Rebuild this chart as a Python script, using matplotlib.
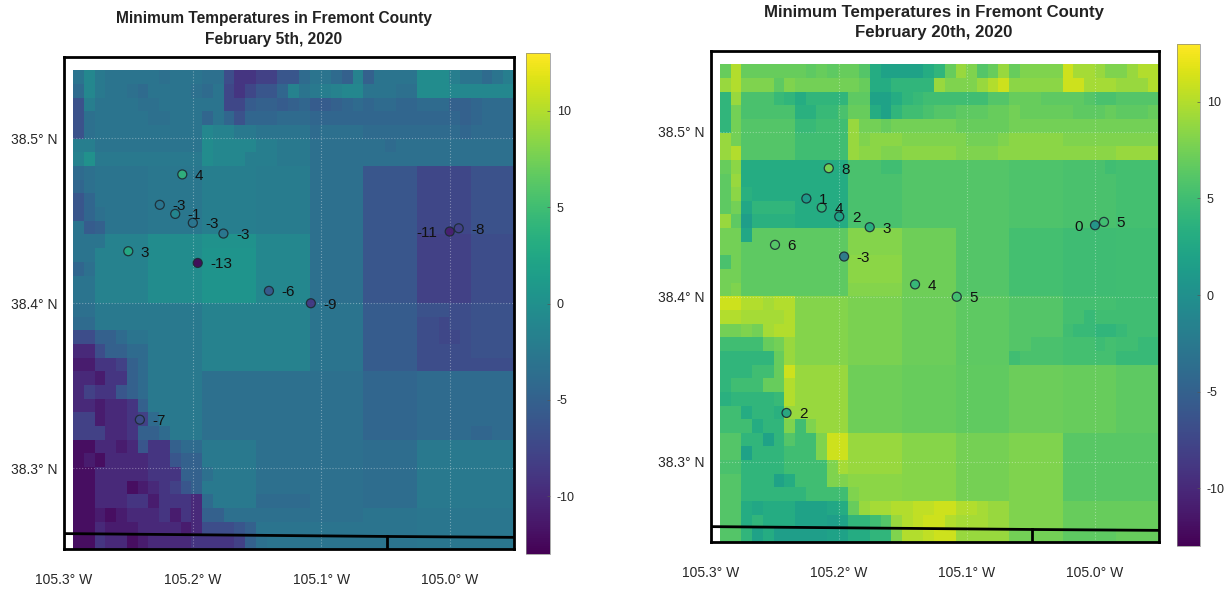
import numpy as np
import matplotlib
matplotlib.use('Agg')
import matplotlib.pyplot as plt

plt.rcParams['font.family'] = ['Liberation Sans', 'DejaVu Sans']
plt.rcParams['axes.unicode_minus'] = False

# stations, same in both maps
st_lon = [-105.208, -105.2255, -105.2135, -105.1998, -105.176, -105.250, -105.196, -105.1406, -105.108, -105.000, -104.993, -105.241]
st_lat = [38.478, 38.4596, 38.4541, 38.4487, 38.4422, 38.4315, 38.4244, 38.4075, 38.400, 38.4434, 38.4454, 38.3295]
feb5_st = [4, -3, -1, -3, -3, 3, -13, -6, -9, -11, -8, -7]
feb20_st = [8, 1, 4, 2, 3, 6, -3, 4, 5, 0, 5, 2]

county_lon = [-105.31, -105.05, -104.94]
county_lat = [38.2606, 38.2588, 38.2582]
tick_lon = [-105.049, -105.049]
tick_lat = [38.2588, 38.24]

lon_ticks = [-105.3, -105.2, -105.1, -105.0]
lon_labels = ['105.3° W', '105.2° W', '105.1° W', '105.0° W']
lat_ticks = [38.3, 38.4, 38.5]
lat_labels = ['38.3° N', '38.4° N', '38.5° N']
cb_ticks = [-10, -5, 0, 5, 10]

# minimum temperature grid, top row first, 41 columns
feb5 = [
 [-3,-1, -2.5,-3,-3,-3,-3, -3,-3.5,-3,-3,-3, -3.5,-3.5,-7,-9,-9, -8,-8,-6,-6,-4, -3,-3,-4,-5,-1.5, -5,-3,-3,-3,-3, -0.5,-0.5,-0.5,-2,-3, -3,-4,-3,-2],
 [-4,-1, -2.5,-3,-3,-3.5,-4, -3,-3,-3,-3,-3.5, -4,-3,-7.5,-9,-7.5, -6,-6,-4.5,-1.5,-3, -2.5,-2,-1.5,-1,-1, -3,-3,-3,-3.5,-3.5, -0.5,-0.5,-0.5,-1,-1, -1,-1,-1,-1],
 [-6.5,-2, -3,-3,-3,-3,-3.5, -3.5,-3,-3,-3,-3, -3,-3,-7.5,-7.5,-5.5, -5,-5,-5.5,-5,-4.5, -5.5,-5.5,-5,-4.5,-4, -4.5,-4,-4,-4.5,-4.5, -4,-4,-4,-5,-5, -4.5,-4,-4,-4],
 [-6.5,-3.5, -3,-3,-3,-3,-3, -3.5,-3.5,-3,-3,-3, -4.5,-3,-4.5,-6.5,-4.5, -4.5,-4.5,-4,-4,-4, -4.5,-4.5,-4.5,-4.5,-4.5, -4.5,-4.5,-4.5,-4.5,-4.5, -4.5,-4.5,-4.5,-4.5,-5, -4.5,-4,-4,-4],
 [-6.5,-3.5, -3,-3,-3,-3,-3, -3,-3,-3,-3,-3, -1,-1.5,-1.5,-2.5,-2.5, -3,-3,-3,-3,-3, -4,-3.5,-3.5,-3.5,-3.5, -4,-4,-4,-4,-4, -4,-4,-4,-4,-4.5, -4,-4,-4,-4],
 [-2,-2, -3,-3,-3,-3,-3, -3,-3,-3,-3,-3, -0.5,-1,-1,-1,-1, -2,-2,-2.5,-2.5,-2.5, -3.5,-3.5,-3.5,-3.5,-3.5, -3.5,-3.5,-4,-3.5,-3.5, -3.5,-3.5,-3.5,-3.5,-3.5, -3.5,-3.5,-3.5,-3.5],
 [-1.5,0, -2.5,-2.5,-2.5,-2.5,-2.5, -2.5,-2.5,-2.5,-2.5,-2.5, -0.5,-1,-1,-1,-2, -2,-2,-2.5,-2.5,-2.5, -3.5,-3.5,-3.5,-3.5,-3.5, -3.5,-3.5,-3.5,-3.5,-3.5, -3.5,-3.5,-3.5,-3.5,-3.5, -3.5,-3.5,-3.5,-3.5],
 [-4,-3.5] + [-3]*5 + [-2.7]*5 + [-2]*5 + [-2.2]*5 + [-3.5]*5 + [-6]*5 + [-7.5]*5 + [-6.5]*4,
 [-4.5,-3.5] + [-3]*5 + [-2.7]*5 + [-2]*5 + [-2.2]*5 + [-3.5]*5 + [-6]*5 + [-7.5]*5 + [-6.5]*4,
 [-6,-4.5] + [-3]*5 + [-2.7]*5 + [-2]*5 + [-2.2]*5 + [-3.5]*5 + [-6]*5 + [-7.5]*5 + [-6.5]*4,
 [-6,-4.5,-3.5] + [-3]*4 + [-2.7]*5 + [-2]*5 + [-2.2]*5 + [-3.5]*5 + [-6]*5 + [-7.5]*5 + [-6.5]*4,
 [-3,-5.5,-5,-3] + [-3]*3 + [-2.7]*5 + [-2]*5 + [-2.2]*5 + [-3.5]*5 + [-6]*5 + [-7.5]*5 + [-6.5]*4,
 [-3,-3,-3] + [-1.5]*4 + [-0.5]*5 + [0.2]*5 + [-1]*5 + [-3.5]*5 + [-6]*5 + [-8]*5 + [-7]*4,
 [-3,-3] + [-1.5]*5 + [-0.5]*5 + [0.5]*5 + [-1]*5 + [-3.5]*5 + [-6]*5 + [-8]*5 + [-7]*4,
 [-4.5,-3.5] + [-1.5]*5 + [-0.5]*5 + [0.5]*5 + [-1]*5 + [-3.5]*5 + [-6]*5 + [-8]*5 + [-7]*4,
 [-3,-3] + [-1.5]*5 + [-0.5]*5 + [0.5]*5 + [-1]*5 + [-3.5]*5 + [-6]*5 + [-8]*5 + [-7]*4,
 [-3,-3] + [-1.5]*5 + [-0.5]*5 + [0.5]*5 + [-1]*5 + [-3.5]*5 + [-6]*5 + [-8]*5 + [-7]*4,
 [-3.5,-3.5] + [-2.5]*5 + [-2.5]*5 + [-1.5]*5 + [-1.5]*5 + [-3]*5 + [-5.5]*5 + [-6.5,-6.5,-6.5,-7,-7] + [-6.5]*4,
 [-4,-4] + [-2.5]*5 + [-2.5]*5 + [-1.5]*5 + [-1.5]*5 + [-3]*5 + [-5.5]*5 + [-7,-7,-7.5,-7,-7] + [-6.5]*4,
 [-7,-7,-5,-5,-4,-3,-3] + [-2.5]*5 + [-1.5]*5 + [-1.5]*5 + [-3]*5 + [-5.5]*5 + [-7,-7,-7.5,-7.5,-7] + [-6.5]*4,
 [-10,-10,-7,-5,-5,-4,-4] + [-2.5]*5 + [-1.5]*5 + [-1.5]*5 + [-3]*5 + [-5.5]*5 + [-7]*5 + [-6.5]*4,
 [-11,-11,-9,-9,-8,-5,-4] + [-2.5]*5 + [-1.5]*5 + [-1.5]*5 + [-3]*5 + [-5.5]*5 + [-7]*5 + [-7]*4,
 [-10,-10,-11,-9,-9,-5,-4] + [-2.5]*5 + [-3.5]*5 + [-3.5]*5 + [-3.5]*5 + [-4.5]*5 + [-4]*5 + [-4]*4,
 [-10,-8,-9,-9,-6,-5,-4] + [-2.5]*5 + [-3.5]*5 + [-3.5]*5 + [-3.5]*5 + [-4.5]*5 + [-4]*5 + [-4]*4,
 [-10,-10,-11,-10,-10,-9,-5] + [-2.5]*5 + [-3.5]*5 + [-3.5]*5 + [-3.5]*5 + [-4.5]*5 + [-4]*5 + [-4]*4,
 [-8,-8,-11,-10,-10,-9,-8,-4,-2.5,-2.5,-2.5,-2.5] + [-3.5]*5 + [-3.5]*5 + [-3.5]*5 + [-4.5]*5 + [-4]*5 + [-4]*4,
 [-8,-8,-8,-10,-10,-9,-5,-5,-4,-2.5,-2.5,-2.5] + [-3.5]*5 + [-3.5]*5 + [-3.5]*5 + [-4.5]*5 + [-4]*5 + [-4.5,-4.5,-4,-4],
 [-12,-12,-10,-10,-11,-10,-6,-9,-9,-5,-4,-4] + [-2.5]*5 + [-3.5]*5 + [-3.5]*5 + [-3.8]*5 + [-2.5]*5 + [-2.5]*4,
 [-12,-11,-12,-10,-10,-10,-10,-9,-9,-6,-5,-5] + [-2.5]*5 + [-3.5]*5 + [-3.5]*5 + [-3.8]*5 + [-2.5]*5 + [-2.5]*4,
 [-12,-12,-10,-10,-10,-10,-10,-9,-9,-9,-5,-5,-3.5] + [-2.5]*4 + [-3.5]*5 + [-3.5]*5 + [-3.8]*5 + [-2.5]*5 + [-2.5]*4,
 [-12,-12,-10,-10,-10,-12,-11,-10,-9,-8,-6,-5] + [-2.5]*5 + [-3.5]*5 + [-3.5]*5 + [-3.8]*5 + [-2.5]*5 + [-2.5]*4,
 [-12,-12,-10,-10,-10,-9,-9,-11,-9,-9,-9,-10,-4] + [-2.5]*4 + [-4]*5 + [-3.5]*5 + [-3.8]*5 + [-2.5]*5 + [-2.5]*4,
 [-12,-12,-11,-12,-11,-10,-10,-10,-9,-11,-9,-10,-5,-5,-3.5,-3.5,-3.5] + [-3.5]*5 + [-3.5]*5 + [-3]*5 + [-2.8]*5 + [-2.8]*4,
 [-12,-12,-10,-11,-11,-11,-10,-10,-10,-10,-11,-10,-7,-7,-7,-6,-5] + [-3]*5 + [-3]*5 + [-3]*5 + [-2.8]*5 + [-2.8]*4,
 [-12,-12,-9,-10,-10,-12,-11,-10,-10,-10,-10,-9,-9,-9,-9,-8,-5,-3.5] + [-3]*4 + [-3]*5 + [-3]*5 + [-2.8]*5 + [-2.8]*4,
]

feb20 = [
 [7,10, 7,7,7,7,7, 7,6.5,7,6.5,7, 7,6,3,2,2, 2,2,3,4,7, 9,8,6,7,9, 7,8,8,8,8, 11,9.5,9.5,9,8, 8,9,10,10],
 [9,10, 8,8,8,6.5,8, 7.5,7.5,7.5,7.5,7.5, 7.5,7,3,3,4, 4,4,4,9,8, 8,8,9,10,11, 8.5,8.5,8.5,8.5,8.5, 11,11,9.5,9.5,9.5, 9,9,9,10],
 [4,9, 5.5,5.5,5.5,4.5,4, 3,4,4,4,4, 6.5,6.5,2,2,3, 4,4.5,5,5,5, 5,5,5,6,6, 7,7,7,6.5,6.5, 6.5,6.5,6,5.5,5.5, 6,6,6,6],
 [4,7.5, 5.5,5.5,5.5,5.5,5.5, 3.5,3.5,4.5,4.5,5.5, 7,7,3,2,4, 5,5,5.5,6,6, 6.5,6.5,6.5,7,7, 7.5,7,7,7,7, 7,6.5,6.5,6.5,7, 6.5,6.5,6.5,7],
 [4,7.5, 6,6,6,6,6, 4.5,4.5,5,5,5, 9,7.5,7.5,7,7.5, 7.5,7.5,7.5,7.5,7.5, 7,7,7,7,7, 7.5,7.5,7.5,7.5,7.5, 7.5,7.5,7.5,7.5,7.5, 7.5,7.5,7.5,7.5],
 [9,7.5, 6,6,6,6,6, 5,5,5,5,5, 9,8,8.5,8.5,8.5, 8,8,8,8,8, 8,7.5,7.5,7.5,8, 8.5,8.5,8.5,8.5,8.5, 8,8,8,8,8, 8,8,8,8],
 [9,10, 6,6,6,6,6, 5,5,5,5,5, 9,8.5,8.5,8,8, 8.5,8.5,8.5,8.5,8.5, 8,8,8,8,8.5, 8.5,8.5,8.5,8.5,8.5, 8.5,8.5,8.5,8.5,8.5, 9,9,9,9],
 [7,8.5] + [3]*5 + [3]*5 + [5.5,5.5,5.5,5,5] + [6]*5 + [6]*5 + [5.7]*5 + [5.5,5.5,5.5,5.5,5] + [5.2]*4,
 [6.5,9] + [3]*5 + [3]*5 + [5.5]*5 + [6]*5 + [6]*5 + [5.7]*5 + [5.5]*5 + [5.2]*4,
 [6.5,8.5,3.5] + [3]*4 + [3]*5 + [5.5]*5 + [6]*5 + [6]*5 + [5.7]*5 + [5.5]*5 + [5.2]*4,
 [6.5,7.5,2.5] + [4]*4 + [3]*5 + [5.5]*5 + [6]*5 + [6]*5 + [5.7]*5 + [5.5]*5 + [5.2]*4,
 [9,6.5,1.5] + [3.5]*4 + [3]*5 + [5.5]*5 + [6]*5 + [6]*5 + [5.7]*5 + [5.5]*5 + [5.2]*4,
 [7.5,7.5,2.5] + [6.5]*4 + [6.5]*5 + [8.2]*5 + [7.3]*5 + [6]*5 + [5.2]*5 + [4.9]*5 + [5]*4,
 [7.5,7.5] + [6.5]*5 + [6.5]*5 + [8.2]*5 + [7.3]*5 + [6]*5 + [5.2]*5 + [4.9]*5 + [5]*4,
 [5.5,7.5] + [6.5]*5 + [6.5]*5 + [8.5]*5 + [7.3]*5 + [6]*5 + [5.2]*5 + [4.9]*5 + [5]*4,
 [7.5,7.5] + [6.5]*5 + [6.5]*5 + [8.5]*5 + [7.3]*5 + [6]*5 + [5.2]*5 + [4.9]*5 + [5]*4,
 [7.5,8] + [6.5]*5 + [6.5]*5 + [8.2]*5 + [7.3]*5 + [6]*5 + [5.2]*5 + [4.9]*5 + [5]*4,
 [11,11,10,10,9.5,10,10] + [8.2]*5 + [7.8]*5 + [7.2]*5 + [6.5]*5 + [6]*5 + [5.2]*5 + [5]*4,
 [10,10,9.5,9.5,9.5,9.5,10] + [8.2]*5 + [7.8]*5 + [7.2]*5 + [6.5]*5 + [6]*5 + [5.2,5.2,4.5,5,5] + [5]*4,
 [7.5,7.5,8,7.5,9.5,10,10] + [8.2]*5 + [7.8]*5 + [7.2]*5 + [6.5]*5 + [6]*5 + [5,4.5,4.5,4,4] + [4.5,5,5,5],
 [5,5,5,5,7,7.5,9] + [8.2]*5 + [7.8]*5 + [7.2]*5 + [6.5]*5 + [6,6,5.5,5.5,5.5] + [5.2,5.2,5.2,4.8,5.2] + [5,5,4.5,4.5],
 [4,4,4,4,4,7,9] + [8.2]*5 + [7.8]*5 + [7.2]*5 + [6.5]*5 + [5]+[5.5]*4 + [5.2]*5 + [4.5]*4,
 [4,4,4,5,5,7,11] + [9]*5 + [7.3]*5 + [7]*5 + [6.7]*5 + [7.2]*5 + [7]*5 + [6.5]*4,
 [4,5,5,5,7,7,10] + [9]*5 + [7.3]*5 + [7]*5 + [6.7]*5 + [7.2]*5 + [7]*5 + [6.5]*4,
 [3.5,4,4,4,4,4.5,10] + [9]*5 + [7.3]*5 + [7]*5 + [6.7]*5 + [7.2]*5 + [7]*5 + [6.5]*4,
 [5,5,3,4,4,3.5,9] + [9]*5 + [7.3]*5 + [7]*5 + [6.7]*5 + [7.2]*5 + [7]*5 + [6.5]*4,
 [5,5,5,3,4,4,8,5,8,9,9,9] + [7.3]*5 + [7]*5 + [6.7]*5 + [7.2]*5 + [7]*5 + [6.5]*4,
 [6,6,4,4,2,4,6,5,5,8,11,11] + [9]*5 + [8.3]*5 + [7.6]*5 + [8]*5 + [6.2]*5 + [6.2]*4,
 [6,6,2,4,4,4,5,5,5,8,11,11] + [9]*5 + [8.3]*5 + [7.6]*5 + [8]*5 + [6.2]*5 + [6.2]*4,
 [5.5,5.5,4,4,4,4,5,5,5,5,8,9.5] + [9]*5 + [8.3]*5 + [7.6]*5 + [8]*5 + [6.2]*5 + [6.2]*4,
 [6,6,4,4,4,2,3,5,5,5,8,8] + [8.5]*5 + [8.3]*5 + [7.6]*5 + [8]*5 + [6.2]*5 + [6.2]*4,
 [6,6,4,4,4,4,4,4,5,5,5,5] + [8,8.5,8.5,8.5,8.5] + [8.3]*5 + [7.6]*5 + [8]*5 + [6.2]*5 + [6.2]*4,
 [6,6,3,2.5,3,3,3,2,2,2,2.5,3,7,9,9.5,9.5,10] + [10,10.5,10.5,11,11] + [10,10,9.5,9,9] + [8]*5 + [7]*5 + [7]*4,
 [6,6,3,4,3,3,3,2,2,2,1.5,2,4,4,5,6,9] + [10,10.5,11,11,10] + [9.5,9.5,9.5,9,9] + [8]*5 + [7]*5 + [7]*4,
 [6,6,4,2,3,1.5,1.5,1.5,1.5,1.5,2,2,3,3,4,4,8] + [10,10,10.5,11,11] + [9]*5 + [7.5]*5 + [6.5]*5 + [7]*4,
]

W, H = 1227, 589
fig = plt.figure(figsize=(W/100, H/100), dpi=100)


def px_axes(x0, y0, x1, y1):
    return fig.add_axes([x0/W, 1-y1/H, (x1-x0)/W, (y1-y0)/H])


def panel(grid, st_vals, frame, cbar, title, title_xy, title_size, xlim):
    ax = px_axes(*frame)
    z = np.array(grid, dtype=float)
    lon_e = np.linspace(-105.293, xlim[1], z.shape[1]+1)
    lat_e = np.linspace(38.541, 38.2512, z.shape[0]+1)
    mesh = ax.pcolormesh(lon_e, lat_e, z, cmap='viridis', vmin=-13, vmax=13, zorder=1)
    ax.set_xlim(xlim)
    ax.set_ylim(38.2512, 38.5491)
    ax.set_xticks(lon_ticks, lon_labels)
    ax.set_yticks(lat_ticks, lat_labels)
    ax.tick_params(length=0, labelsize=10, labelcolor='#262626')
    ax.tick_params(axis='x', pad=17.5)
    ax.tick_params(axis='y', pad=5)
    ax.grid(color='white', ls=':', lw=0.8, alpha=0.35, zorder=2)
    ax.set_axisbelow(False)
    for s in ax.spines.values():
        s.set_linewidth(2)
        s.set_zorder(6)
    ax.plot(county_lon, county_lat, color='black', lw=2, zorder=5)
    ax.plot(tick_lon, tick_lat, color='black', lw=2, zorder=5)
    ax.scatter(st_lon, st_lat, c=st_vals, cmap='viridis', vmin=-13, vmax=13, s=42,
               edgecolors='#1c2b33', linewidths=0.9, alpha=0.9, zorder=4)
    for lo, la, v in zip(st_lon, st_lat, st_vals):
        # the two labels at 105.0 W would collide, one goes to the left
        left = lo == -105.000
        ax.annotate(str(v), (lo, la), xytext=(-9 if left else 9, -1), textcoords='offset points',
                    ha='right' if left else 'left', va='center', fontsize=11, color='#111111', zorder=7)
    cax = px_axes(*cbar)
    cb = fig.colorbar(mesh, cax=cax)
    cb.set_ticks(cb_ticks)
    cb.ax.tick_params(labelsize=9, length=2.5, width=0.5, direction='in', color='#555555', labelcolor='#262626', pad=5)
    cb.outline.set_linewidth(0.5)
    cb.outline.set_edgecolor('#888888')
    fig.text(title_xy[0]/W, 1-title_xy[1]/H, title, ha='center', va='center', fontsize=title_size,
             fontweight='bold', color='#222222', linespacing=1.42)


panel(feb5, feb5_st, (64, 57, 514, 549), (526, 53, 550, 554),
      'Minimum Temperatures in Fremont County\nFebruary 5th, 2020', (274, 29), 11.2, (-105.3, -104.95))
panel(feb20, feb20_st, (711, 51, 1159, 542), (1177, 44, 1200, 546),
      'Minimum Temperatures in Fremont County\nFebruary 20th, 2020', (934, 22.5), 12.1, (-105.299, -104.95))

fig.savefig('out.png', dpi=100)
